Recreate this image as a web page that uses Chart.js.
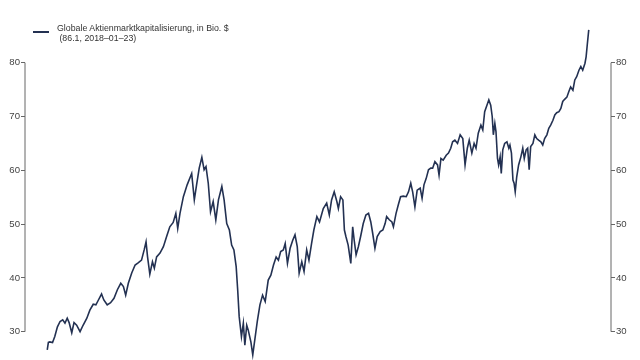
<!DOCTYPE html>
<html>
<head>
<meta charset="utf-8">
<script src="https://cdn.jsdelivr.net/npm/chart.js@4/dist/chart.umd.min.js"></script>
<style>
    html, body { margin: 0; padding: 0; background: #fff; }
    #wrap { position: relative; width: 640px; height: 360px; }
    #legend {
        position: absolute; left: 57px; top: 23px;
        font-family: "Liberation Sans", Arial, sans-serif;
        font-size: 8.8px; line-height: 10px; color: #333;
        white-space: pre;
    }
    #swatch { position: absolute; left: 33px; top: 31px; width: 16px; height: 2px; background: #233152; }
</style>
</head>
<body>
<div id="wrap">
    <canvas id="marketCapChart" width="640" height="360"></canvas>
    <div id="swatch"></div>
    <div id="legend"></div>
</div>
<script>
// Global equity market capitalisation, trillion USD
const seriesLabel = 'Globale Aktienmarktkapitalisierung, in Bio. $';
const lastNote = ' (86.1, 2018\u201301\u201323)';
const yTicks = [30, 40, 50, 60, 70, 80];

const dates = [
    2003.70, 2003.73, 2003.77, 2003.84, 2003.90, 2003.97, 2004.04, 2004.11, 2004.17, 2004.23,
    2004.28, 2004.35, 2004.41, 2004.48, 2004.57, 2004.65, 2004.75, 2004.83, 2004.92, 2004.99,
    2005.05, 2005.14, 2005.20, 2005.29, 2005.38, 2005.47, 2005.56, 2005.65, 2005.72, 2005.78,
    2005.85, 2005.94, 2006.03, 2006.11, 2006.20, 2006.27, 2006.32, 2006.36, 2006.42, 2006.49,
    2006.54, 2006.60, 2006.69, 2006.78, 2006.87, 2006.95, 2007.04, 2007.11, 2007.16, 2007.22,
    2007.31, 2007.41, 2007.53, 2007.60, 2007.66, 2007.73, 2007.80, 2007.86, 2007.91, 2007.97,
    2008.03, 2008.10, 2008.17, 2008.24, 2008.33, 2008.39, 2008.46, 2008.53, 2008.59, 2008.65,
    2008.71, 2008.75, 2008.79, 2008.85, 2008.90, 2008.94, 2008.99, 2009.03, 2009.10, 2009.15,
    2009.21, 2009.27, 2009.34, 2009.41, 2009.48, 2009.56, 2009.63, 2009.70, 2009.77, 2009.83,
    2009.89, 2009.96, 2010.01, 2010.07, 2010.14, 2010.21, 2010.27, 2010.33, 2010.38, 2010.45,
    2010.51, 2010.58, 2010.64, 2010.71, 2010.77, 2010.85, 2010.92, 2011.02, 2011.11, 2011.18,
    2011.24, 2011.31, 2011.38, 2011.42, 2011.48, 2011.54, 2011.58, 2011.62, 2011.68, 2011.75,
    2011.80, 2011.84, 2011.89, 2011.95, 2012.01, 2012.08, 2012.15, 2012.22, 2012.28, 2012.33,
    2012.39, 2012.45, 2012.53, 2012.60, 2012.66, 2012.70, 2012.77, 2012.84, 2012.88, 2012.95,
    2013.01, 2013.07, 2013.14, 2013.22, 2013.28, 2013.34, 2013.39, 2013.45, 2013.51, 2013.59,
    2013.64, 2013.69, 2013.75, 2013.81, 2013.87, 2013.92, 2013.98, 2014.05, 2014.09, 2014.14,
    2014.20, 2014.28, 2014.34, 2014.40, 2014.45, 2014.51, 2014.58, 2014.65, 2014.72, 2014.78,
    2014.84, 2014.89, 2014.96, 2015.02, 2015.07, 2015.13, 2015.20, 2015.25, 2015.30, 2015.36,
    2015.41, 2015.46, 2015.50, 2015.53, 2015.57, 2015.60, 2015.64, 2015.67, 2015.71, 2015.74,
    2015.78, 2015.83, 2015.89, 2015.94, 2015.97, 2016.01, 2016.05, 2016.08, 2016.11, 2016.15,
    2016.20, 2016.26, 2016.31, 2016.35, 2016.40, 2016.44, 2016.48, 2016.52, 2016.58, 2016.63,
    2016.68, 2016.73, 2016.79, 2016.84, 2016.89, 2016.95, 2017.00, 2017.05, 2017.11, 2017.16,
    2017.21, 2017.27, 2017.32, 2017.37, 2017.42, 2017.48, 2017.53, 2017.58, 2017.64, 2017.69,
    2017.74, 2017.80, 2017.85, 2017.90, 2017.96, 2017.99, 2018.02, 2018.06
];

const values = [
    26.6, 28.0, 28.1, 28.0, 29.1, 30.9, 31.9, 32.2, 31.6, 32.5,
    31.7, 29.8, 31.7, 31.2, 30.0, 31.2, 32.5, 34.0, 35.1, 35.0,
    35.8, 37.0, 35.9, 35.0, 35.4, 36.2, 37.8, 39.0, 38.4, 36.8,
    39.0, 40.9, 42.4, 42.8, 43.3, 45.2, 46.7, 43.9, 40.7, 43.0,
    41.8, 43.9, 44.6, 45.8, 47.8, 49.5, 50.3, 52.0, 49.2, 52.0,
    55.1, 57.3, 59.4, 54.5, 57.3, 60.4, 62.4, 60.1, 60.7, 57.6,
    52.3, 54.2, 50.8, 54.5, 57.0, 54.5, 50.1, 48.9, 46.1, 45.2,
    42.1, 37.8, 32.8, 29.1, 31.6, 27.5, 31.2, 30.3, 28.1, 25.7,
    28.8, 31.9, 35.0, 36.8, 35.6, 39.6, 40.5, 42.4, 43.9, 43.3,
    44.9, 45.2, 46.4, 42.7, 45.5, 47.0, 48.0, 45.8, 40.9, 43.0,
    41.2, 45.2, 43.3, 46.4, 48.9, 51.4, 50.4, 52.9, 53.9, 51.7,
    54.5, 56.0, 54.2, 52.9, 55.1, 54.5, 48.9, 47.7, 46.1, 42.7,
    49.5, 47.0, 44.3, 45.8, 47.7, 50.1, 51.7, 52.0, 50.4, 48.3,
    45.5, 47.7, 48.6, 48.9, 50.1, 51.4, 50.8, 50.4, 49.5, 52.0,
    53.6, 55.1, 55.2, 55.1, 56.0, 57.6, 56.0, 53.2, 56.3, 56.7,
    54.8, 57.3, 58.5, 60.1, 60.4, 60.4, 61.6, 61.0, 59.1, 62.2,
    61.9, 62.8, 63.2, 64.1, 65.3, 65.6, 65.0, 66.6, 65.9, 61.0,
    64.1, 65.6, 63.2, 65.0, 64.1, 66.9, 68.4, 67.5, 70.9, 72.1,
    73.1, 72.1, 70.0, 66.6, 68.7, 67.2, 62.2, 61.0, 62.5, 59.4,
    63.8, 65.0, 65.3, 64.1, 64.7, 63.2, 58.2, 57.6, 56.0, 58.8,
    61.0, 62.5, 64.1, 62.2, 63.8, 64.1, 60.1, 64.4, 65.0, 66.6,
    65.9, 65.6, 65.3, 64.7, 65.9, 66.6, 67.8, 68.4, 69.3, 70.3,
    70.7, 70.9, 71.5, 72.8, 73.2, 73.6, 74.6, 75.5, 74.9, 76.8,
    77.4, 78.6, 79.3, 78.6, 79.9, 81.1, 83.3, 86.1
];

const lineColor = '#233152';
const axisColor = '#666';
const tickFont = { family: '"Liberation Sans", Arial, sans-serif', size: 9.6 };

document.getElementById('legend').textContent = seriesLabel + '\n' + lastNote;

// axis line only spans the first to last tick, like a base R plot
const axisSegments = {
    id: 'axisSegments',
    afterDraw(chart) {
        const ctx = chart.ctx;
        ctx.save();
        ctx.strokeStyle = axisColor;
        ctx.lineWidth = 1;
        ['y', 'y2'].forEach(function(id) {
            const s = chart.scales[id];
            const x = id === 'y' ? s.right : s.left;
            ctx.beginPath();
            ctx.moveTo(x, s.getPixelForValue(yTicks[0]));
            ctx.lineTo(x, s.getPixelForValue(yTicks[yTicks.length - 1]));
            ctx.stroke();
        });
        ctx.restore();
    }
};

function axisOptions(position, width) {
    return {
        position: position,
        min: 24.74,
        max: 87.94,
        afterBuildTicks: function(scale) {
            scale.ticks = yTicks.map(v => ({ value: v }));
        },
        afterFit: function(scale) {
            scale.width = width;
            scale.paddingTop = 0;
            scale.paddingBottom = 0;
        },
        border: { display: false },
        grid: { drawOnChartArea: false, tickLength: 4, color: axisColor },
        ticks: { padding: 1, color: '#444', font: tickFont }
    };
}

document.addEventListener('DOMContentLoaded', function() {
    const ctx = document.getElementById('marketCapChart').getContext('2d');
    new Chart(ctx, {
        type: 'line',
        data: {
            datasets: [{
                label: seriesLabel,
                data: dates.map((d, i) => ({ x: d, y: values[i] })),
                borderColor: lineColor,
                borderWidth: 1.6,
                pointRadius: 0,
                tension: 0,
                fill: false,
                clip: false,
                yAxisID: 'y'
            }]
        },
        options: {
            responsive: false,
            animation: false,
            layout: { padding: { top: 20, left: 0, right: 0, bottom: 0 } },
            plugins: { legend: { display: false }, tooltip: { enabled: false } },
            scales: {
                x: { type: 'linear', display: false, min: 2003.11, max: 2018.65 },
                y: axisOptions('left', 25),
                y2: axisOptions('right', 29)
            }
        },
        plugins: [axisSegments]
    });
});
</script>
</body>
</html>
